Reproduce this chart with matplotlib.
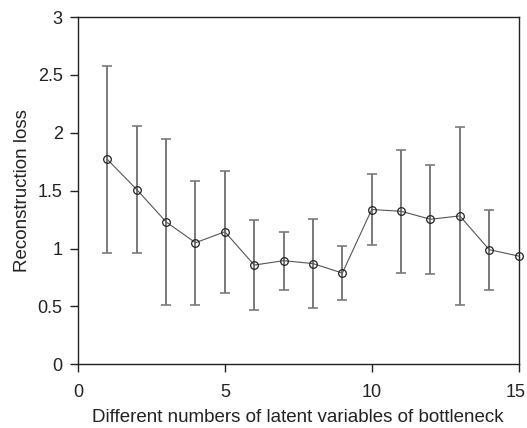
import numpy as np
import matplotlib.pyplot as plt
from matplotlib.transforms import ScaledTranslation

plt.rcParams['font.family'] = ['Liberation Sans', 'DejaVu Sans']

# latent variable counts and mean reconstruction loss
n_latent = [1, 2, 3, 4, 5, 6, 7, 8, 9, 10, 11, 12, 13, 14, 15]
loss = [1.77, 1.51, 1.23, 1.05, 1.145, 0.857, 0.895, 0.87, 0.788,
        1.337, 1.322, 1.253, 1.282, 0.99, 0.935]
# std (symmetric error); last point's bar sits on the right spine
loss_err = [0.81, 0.55, 0.72, 0.535, 0.527, 0.388, 0.25, 0.382, 0.23,
            0.305, 0.533, 0.47, 0.77, 0.345]

fig = plt.figure(figsize=(5.27, 4.28), dpi=100)
ax = fig.add_axes([0.148, 0.149, 0.836, 0.811])

ax.errorbar(n_latent[:len(loss_err)], loss[:len(loss_err)], yerr=loss_err,
            fmt='none', ecolor='#7a7a7a', elinewidth=1.4, capsize=3.5,
            capthick=1.2, zorder=2)
ax.plot(n_latent, loss, '-', color='#555555', lw=0.8, zorder=3)
ax.plot(n_latent, loss, 'o', ms=5.5, mfc='none', mec='#222222', mew=0.9,
        zorder=4, clip_on=False)

ax.set_xlim(0, 15)
ax.set_ylim(0, 3)
ax.set_xticks([0, 5, 10, 15])
ax.set_yticks([0, 0.5, 1, 1.5, 2, 2.5, 3])
ax.set_yticklabels(['0', '0.5', '1', '1.5', '2', '2.5', '3'])
ax.tick_params(direction='out', length=6, width=1, labelsize=13,
               colors='#222222', top=False, right=False)
ax.tick_params(axis='y', pad=5)
ax.tick_params(axis='x', pad=8)
for s in ax.spines.values():
    s.set_linewidth(1.0)
    s.set_color('#222222')

# keep the last x label inside the figure edge
last = ax.get_xticklabels()[-1]
last.set_transform(last.get_transform() +
                   ScaledTranslation(-2 / 72, 0, fig.dpi_scale_trans))

ax.set_xlabel('Different numbers of latent variables of bottleneck',
              fontsize=13.5, color='#222222', labelpad=6)
ax.set_ylabel('Reconstruction loss', fontsize=13.5, color='#222222',
              labelpad=5)

fig.savefig('out.png', dpi=100)
